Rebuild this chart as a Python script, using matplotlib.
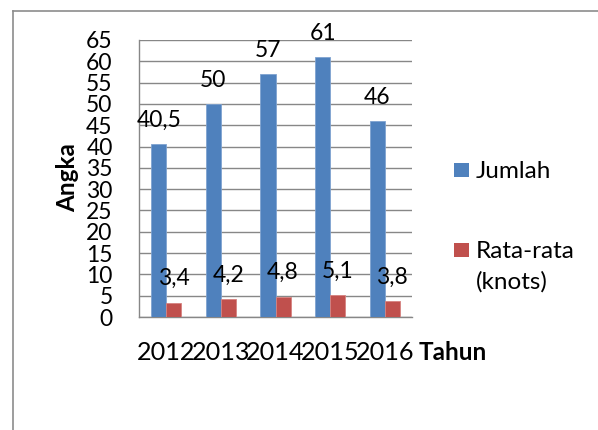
import numpy as np
import matplotlib
matplotlib.use("Agg")
import matplotlib.pyplot as plt
from matplotlib.lines import Line2D
from matplotlib.patches import Rectangle

# ── Data ──────────────────────────────────────────────────────────────────────
years = ["2012", "2013", "2014", "2015", "2016"]
jumlah = [40.5, 50, 57, 61, 46]
rata_rata = [3.4, 4.2, 4.8, 5.1, 3.8]
jumlah_labels = ["40,5", "50", "57", "61", "46"]
rata_labels = ["3,4", "4,2", "4,8", "5,1", "3,8"]
yticks = list(range(0, 70, 5))

BLUE = "#4F81BD"
RED = "#C0504D"
GRID = "#878787"
FS = 16.5

plt.rcParams["font.family"] = ["Lato", "DejaVu Sans"]

fig = plt.figure(figsize=(5.98, 4.30), dpi=100)
W, H = 598, 430
ax = fig.add_axes([139 / W, 1 - 317 / H, (412 - 139) / W, (317 - 40) / H])

x = np.arange(len(years))
bw = 0.275
ax.bar(x - bw / 2, jumlah, bw, color=BLUE, edgecolor="#7FA3D0", linewidth=0.6, zorder=3)
ax.bar(x + bw / 2, rata_rata, bw, color=RED, edgecolor="#D68380", linewidth=0.6, zorder=3)

for xi, v, s in zip(x - bw / 2, jumlah, jumlah_labels):
    ax.annotate(s, (xi, v), xytext=(0, 12.5), textcoords="offset points",
                ha="center", va="baseline", fontsize=FS, zorder=4)
for xi, v, s in zip(x + bw / 2, rata_rata, rata_labels):
    ax.annotate(s, (xi, v), xytext=(0, 12.5), textcoords="offset points",
                ha="center", va="baseline", fontsize=FS, zorder=4)

ax.set_xlim(-0.5, len(years) - 0.5)
ax.set_ylim(0, 65)
ax.set_yticks(yticks)
ax.set_yticklabels([str(t) for t in yticks], fontsize=FS)
ax.tick_params(axis="y", length=0, pad=19)
ax.set_xticks(x)
ax.set_xticklabels(years, fontsize=18.2)
ax.tick_params(axis="x", length=0, pad=17)
ax.yaxis.grid(True, color=GRID, linewidth=1.0, zorder=0)
ax.set_axisbelow(True)
for side in ["top", "right"]:
    ax.spines[side].set_visible(False)
for side in ["left", "bottom"]:
    ax.spines[side].set_color(GRID)
    ax.spines[side].set_linewidth(1.0)

fig.text(419 / W, 1 - 352 / H, "Tahun", ha="left", va="center", fontsize=17.5,
         fontweight="bold")
fig.text(68 / W, 1 - 178 / H, "Angka", ha="center", va="center", fontsize=17.5,
         fontweight="bold", rotation=90)

# legend
for (yc, col, lines) in [(170, BLUE, ["Jumlah"]),
                         (250, RED, ["Rata-rata", "(knots)"])]:
    fig.patches.append(Rectangle((454 / W, 1 - (yc + 7) / H), 15 / W, 14 / H,
                                 transform=fig.transFigure, facecolor=col,
                                 edgecolor="none"))
    for i, t in enumerate(lines):
        fig.text(476 / W, 1 - (yc + 1 + i * 31) / H, t, ha="left", va="center",
                 fontsize=17.5)

# outer chart frame (left and top edges visible)
fig.lines.append(Line2D([13 / W, 13 / W], [0, 1 - 10.5 / H], transform=fig.transFigure,
                        color="#8C8C8C", linewidth=1.2))
fig.lines.append(Line2D([13 / W, 1], [1 - 10.5 / H, 1 - 10.5 / H],
                        transform=fig.transFigure, color="#8C8C8C", linewidth=1.2))

fig.savefig("out.png", dpi=100)
